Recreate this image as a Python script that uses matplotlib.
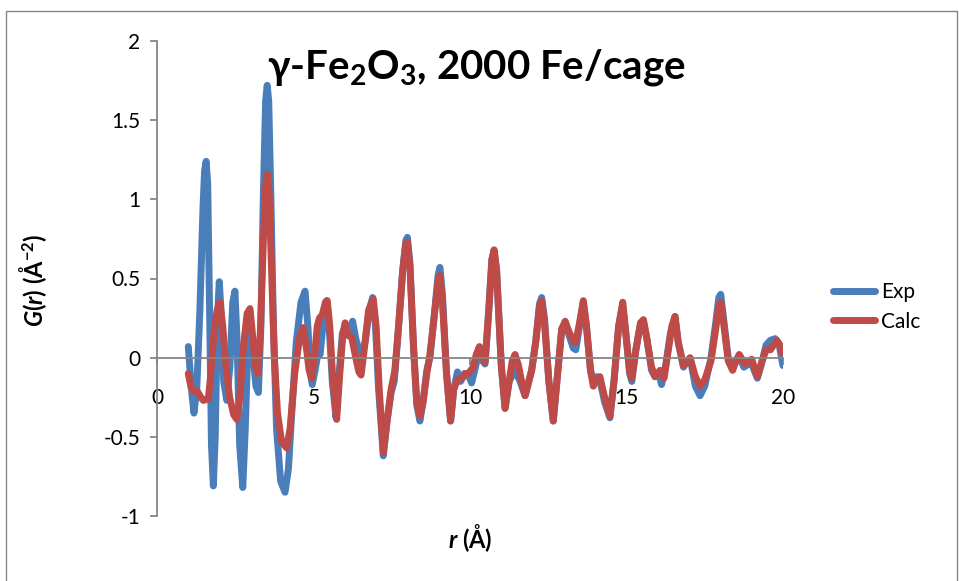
import matplotlib
matplotlib.use("Agg")
import matplotlib.pyplot as plt
from matplotlib.patches import Rectangle

plt.rcParams['font.family'] = ['Lato', 'DejaVu Sans']
plt.rcParams['mathtext.fontset'] = 'custom'
plt.rcParams['mathtext.rm'] = 'Lato'
plt.rcParams['mathtext.it'] = 'Lato:italic'
plt.rcParams['mathtext.bf'] = 'Lato:bold'
plt.rcParams['mathtext.bfit'] = 'Lato:bold:italic'

# r (Angstrom) and G(r) for the measured PDF
r_exp = [1.00, 1.10, 1.18, 1.27, 1.37, 1.47, 1.52, 1.57, 1.62, 1.68, 1.74, 1.80, 1.86,
         1.93, 1.99, 2.06, 2.13, 2.23, 2.33, 2.42, 2.49, 2.56, 2.64, 2.74, 2.82, 2.90,
         2.97, 3.05, 3.16, 3.24, 3.32, 3.40, 3.47, 3.52, 3.57, 3.64, 3.72, 3.82, 3.95,
         4.09, 4.20, 4.32, 4.45, 4.60, 4.73, 4.82, 4.90, 4.96, 5.05, 5.12, 5.21, 5.30,
         5.42, 5.50, 5.60, 5.72, 5.82, 5.92, 6.01, 6.10, 6.25, 6.35, 6.52, 6.65, 6.78,
         6.89, 6.98, 7.08, 7.23, 7.35, 7.48, 7.58, 7.70, 7.85, 7.95, 8.00, 8.08, 8.20,
         8.30, 8.40, 8.50, 8.62, 8.72, 8.85, 8.98, 9.04, 9.12, 9.25, 9.38, 9.48, 9.60,
         9.70, 9.82, 9.95, 10.05, 10.15, 10.30, 10.40, 10.48, 10.60, 10.70, 10.77,
         10.85, 11.00, 11.12, 11.25, 11.44, 11.60, 11.76, 11.88, 11.97, 12.10, 12.22,
         12.29, 12.38, 12.52, 12.66, 12.80, 12.93, 13.04, 13.15, 13.30, 13.38, 13.50,
         13.62, 13.72, 13.85, 13.94, 14.05, 14.15, 14.30, 14.47, 14.60, 14.75, 14.88,
         14.98, 15.10, 15.17, 15.30, 15.45, 15.54, 15.65, 15.80, 15.91, 16.03, 16.12,
         16.25, 16.40, 16.55, 16.65, 16.82, 16.95, 17.05, 17.20, 17.35, 17.50, 17.70,
         17.85, 17.95, 18.01, 18.10, 18.25, 18.39, 18.50, 18.60, 18.75, 18.90, 19.00,
         19.18, 19.30, 19.46, 19.60, 19.75, 19.88, 19.95, 20.00]
g_exp = [0.07, -0.20, -0.35, -0.20, 0.30, 0.95, 1.18, 1.24, 1.10, 0.30, -0.55, -0.81, -0.50,
         0.25, 0.48, 0.25, -0.15, -0.27, -0.05, 0.35, 0.42, 0.10, -0.55, -0.82, -0.45, 0.05,
         0.22, 0.05, -0.18, -0.22, 0.20, 1.05, 1.62, 1.72, 1.62, 1.00, 0.20, -0.45, -0.78,
         -0.85, -0.70, -0.30, 0.10, 0.35, 0.42, 0.20, -0.10, -0.17, -0.08, 0.00, 0.02, 0.20,
         0.36, 0.20, -0.15, -0.38, -0.10, 0.15, 0.20, 0.15, 0.23, 0.12, 0.00, 0.10, 0.30,
         0.38, 0.20, -0.20, -0.62, -0.40, -0.22, -0.15, 0.15, 0.55, 0.74, 0.76, 0.60, 0.05,
         -0.30, -0.40, -0.28, -0.08, 0.00, 0.25, 0.52, 0.57, 0.40, -0.10, -0.40, -0.20, -0.09,
         -0.15, -0.10, -0.11, -0.16, -0.08, 0.05, -0.02, -0.04, 0.30, 0.62, 0.68,
         0.55, -0.05, -0.32, -0.15, -0.08, -0.15, -0.24, -0.15, -0.08, 0.10, 0.34,
         0.38, 0.25, -0.15, -0.40, -0.10, 0.18, 0.22, 0.15, 0.06, 0.05, 0.20,
         0.35, 0.20, -0.08, -0.15, -0.12, -0.14, -0.28, -0.38, -0.15, 0.20, 0.33,
         0.15, -0.10, -0.15, 0.05, 0.22, 0.23, 0.12, -0.08, -0.12, -0.10, -0.17,
         -0.05, 0.15, 0.26, 0.10, -0.06, -0.02, -0.02, -0.18, -0.24, -0.18, 0.00,
         0.22, 0.38, 0.40, 0.25, 0.00, -0.06, -0.02, 0.01, -0.06, -0.04, -0.04,
         -0.13, -0.05, 0.08, 0.11, 0.12, 0.08, 0.00, -0.05]

# calculated PDF from the model
r_calc = [1.00, 1.08, 1.14, 1.28, 1.40, 1.48, 1.64, 1.72, 1.82, 1.92, 2.01, 2.10, 2.20,
          2.32, 2.45, 2.55, 2.65, 2.75, 2.88, 2.97, 3.05, 3.14, 3.22, 3.30, 3.40, 3.47,
          3.52, 3.58, 3.66, 3.75, 3.85, 3.98, 4.14, 4.25, 4.40, 4.55, 4.67, 4.78, 4.86,
          4.94, 5.03, 5.12, 5.19, 5.28, 5.38, 5.44, 5.52, 5.62, 5.74, 5.84, 5.94, 6.01,
          6.10, 6.22, 6.35, 6.45, 6.52, 6.62, 6.76, 6.91, 7.00, 7.10, 7.23, 7.35, 7.48,
          7.60, 7.72, 7.85, 7.95, 8.00, 8.08, 8.20, 8.30, 8.40, 8.50, 8.62, 8.72, 8.85,
          8.98, 9.04, 9.12, 9.25, 9.38, 9.48, 9.60, 9.75, 9.85, 9.95, 10.10, 10.20,
          10.30, 10.40, 10.48, 10.60, 10.70, 10.77, 10.85, 11.00, 11.12, 11.25, 11.35,
          11.44, 11.55, 11.68, 11.76, 11.88, 11.97, 12.10, 12.22, 12.29, 12.38, 12.52,
          12.66, 12.80, 12.93, 13.04, 13.15, 13.30, 13.38, 13.50, 13.62, 13.72, 13.85,
          13.94, 14.05, 14.15, 14.30, 14.47, 14.60, 14.75, 14.88, 14.98, 15.10, 15.17,
          15.30, 15.45, 15.54, 15.65, 15.80, 15.91, 16.07, 16.20, 16.30, 16.45, 16.55,
          16.65, 16.82, 17.03, 17.20, 17.35, 17.50, 17.70, 17.85, 17.95, 18.01, 18.10,
          18.25, 18.39, 18.50, 18.60, 18.79, 19.00, 19.18, 19.30, 19.46, 19.60, 19.80,
          19.90, 19.96]
g_calc = [-0.10, -0.18, -0.21, -0.21, -0.25, -0.27, -0.26, -0.10, 0.15, 0.30, 0.35, 0.20, -0.05,
          -0.25, -0.36, -0.39, -0.25, 0.05, 0.28, 0.31, 0.15, -0.05, -0.10, 0.15, 0.75, 1.08,
          1.16, 1.05, 0.55, 0.00, -0.35, -0.53, -0.57, -0.45, -0.10, 0.12, 0.19, 0.05, -0.08,
          -0.13, 0.00, 0.20, 0.25, 0.27, 0.35, 0.36, 0.20, -0.15, -0.39, -0.10, 0.15, 0.22,
          0.14, 0.13, 0.00, -0.09, -0.11, 0.05, 0.30, 0.37, 0.20, -0.20, -0.60, -0.40, -0.20,
          -0.08, 0.20, 0.55, 0.72, 0.73, 0.58, 0.05, -0.28, -0.37, -0.28, -0.10, 0.02, 0.25,
          0.48, 0.52, 0.35, -0.10, -0.40, -0.20, -0.14, -0.13, -0.10, -0.10, -0.06, 0.02,
          0.07, 0.00, -0.03, 0.30, 0.62, 0.68, 0.55, -0.05, -0.32, -0.15, -0.02,
          0.02, -0.05, -0.18, -0.24, -0.15, -0.08, 0.10, 0.32, 0.36, 0.22, -0.15,
          -0.40, -0.10, 0.18, 0.23, 0.17, 0.10, 0.10, 0.22, 0.36, 0.20, -0.08,
          -0.18, -0.14, -0.12, -0.25, -0.37, -0.15, 0.20, 0.35, 0.15, -0.08, -0.13,
          0.05, 0.22, 0.24, 0.12, -0.06, -0.12, -0.08, -0.13, 0.00, 0.20, 0.26,
          0.10, -0.05, 0.00, -0.12, -0.18, -0.14, -0.02, 0.18, 0.33, 0.35, 0.22,
          -0.02, -0.08, -0.02, 0.02, -0.04, -0.01, -0.12, -0.04, 0.05, 0.05, 0.11,
          0.08, 0.03]

x_ticks = [0, 5, 10, 15, 20]
y_ticks = [-1, -0.5, 0, 0.5, 1, 1.5, 2]
y_ticklabels = ['-1', '-0.5', '0', '0.5', '1', '1.5', '2']

axis_gray = '#868686'

fig = plt.figure(figsize=(9.59, 5.81), dpi=100)
ax = fig.add_axes([157 / 959, 1 - 516 / 581, 626 / 959, 475 / 581])

ax.plot(r_exp, g_exp, color='#4A7EBB', lw=5, solid_joinstyle='round',
        solid_capstyle='round', label='Exp')
ax.plot(r_calc, g_calc, color='#BE4B48', lw=5, solid_joinstyle='round',
        solid_capstyle='round', label='Calc')

ax.set_xlim(0, 20)
ax.set_ylim(-1, 2)
ax.set_xticks(x_ticks)
ax.set_yticks(y_ticks)
ax.set_yticklabels(y_ticklabels)

for s in ['top', 'right']:
    ax.spines[s].set_visible(False)
ax.spines['bottom'].set_position(('data', 0))
ax.spines['left'].set_color(axis_gray)
ax.spines['bottom'].set_color(axis_gray)
ax.spines['left'].set_linewidth(1.3)
ax.spines['bottom'].set_linewidth(1.3)
ax.set_zorder(1)

ax.tick_params(axis='both', colors=axis_gray, length=5, width=1.3, labelsize=15,
               labelcolor='black')
ax.tick_params(axis='y', pad=7)
ax.tick_params(axis='x', pad=17)

ax.legend(loc='center left', bbox_to_anchor=(1.08, 0.44), frameon=False,
          fontsize=15, handlelength=2.0, handletextpad=0.3, labelspacing=0.45,
          borderaxespad=0, borderpad=0)

fig.text(476 / 959, 1 - 68 / 581, r'γ-Fe$_\mathbf{2}$O$_\mathbf{3}$, 2000 Fe/cage',
         ha='center', va='center', fontsize=29, fontweight='bold')
fig.text(33 / 959, 1 - 280 / 581, r'$\mathbfit{G}\mathbf{(}\mathbfit{r}\mathbf{)}$ (Å$^{\mathbf{-2}}$)',
         rotation=90, ha='center', va='center', fontsize=17, fontweight='bold')
fig.text(470 / 959, 1 - 538 / 581, r'$\mathbfit{r}$ (Å)',
         ha='center', va='center', fontsize=17, fontweight='bold')

# chart area border
fig.patches.append(Rectangle((6 / 959, -0.1), 951 / 959, 1.1 - 11 / 581,
                             transform=fig.transFigure, fill=False,
                             edgecolor=axis_gray, lw=1.0))

fig.savefig('out.png', dpi=100)
